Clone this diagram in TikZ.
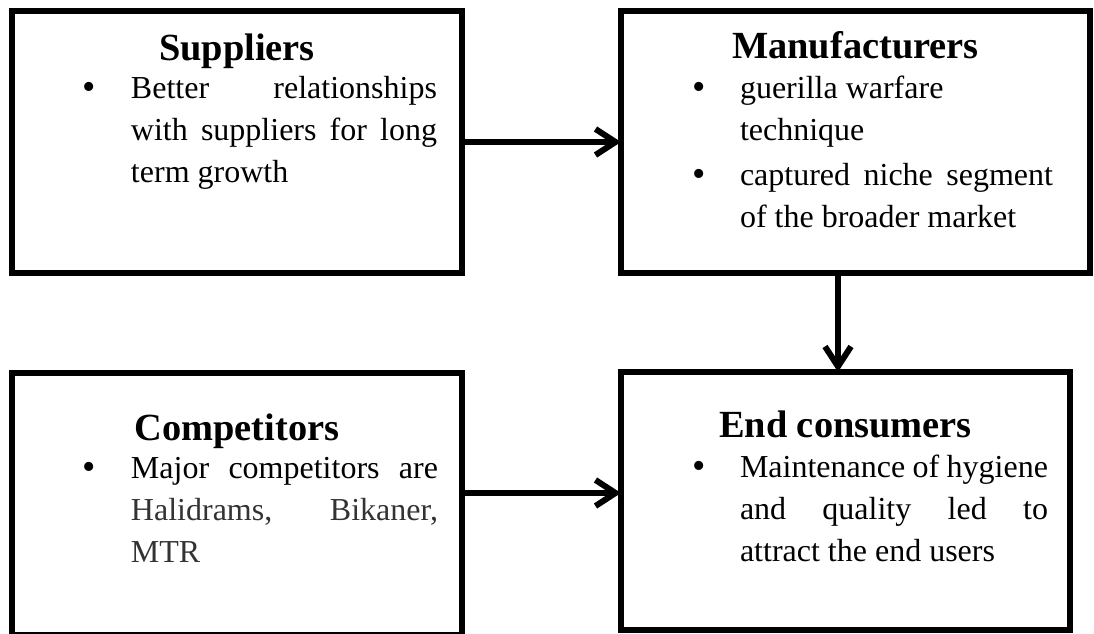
\documentclass[tikz,border=0pt]{standalone}
\usepackage{fontspec}
\setmainfont{Liberation Serif}
\usetikzlibrary{positioning, arrows.meta}

\newcommand{\titlefont}{\fontsize{19.2}{23}\selectfont\bfseries}
\newcommand{\bodyfont}{\fontsize{16}{21}\selectfont}
\newcommand{\bitem}{\noindent\hangindent=24pt\hangafter=1%
  \makebox[24pt][l]{\raisebox{-0.6pt}{\fontsize{19}{21}\selectfont\textbullet}}}

\begin{document}
\begin{tikzpicture}[x=0.5pt, y=-0.5pt,
  every node/.style={inner sep=0pt, outer sep=0pt},
  box/.style={draw, line width=2.6pt, rectangle},
  title/.style={font=\titlefont, anchor=base},
  body/.style={font=\bodyfont, anchor=base west, align=justify},
  arrow/.style={-{Straight Barb[length=10pt, width=13pt]}, line width=3pt,
                line cap=round, line join=round}]
\useasboundingbox (0,0) rectangle (1094,633);

% the four boxes
\node[box, minimum width=225pt, minimum height=131pt] (sup) at (237,142) {};
\node[box, minimum width=234.5pt, minimum height=131pt] (manu) at (855.5,142) {};
\node[box, minimum width=225pt, minimum height=131pt] (comp) at (237,504) {};
\node[box, minimum width=224.5pt, minimum height=129pt] (cons) at (845.5,501) {};

% titles
\node[title] (suptitle) at (237,60) {Suppliers};
\node[title] (manutitle) at (855.5,58) {Manufacturers};
\node[title] (comptitle) at (237,440) {Competitors};
\node[title] (constitle) at (845.5,437) {End consumers};

% bullet texts
\node[body, text width=177pt] (suptext) at (83,98)
  {\bitem Better relationships\linebreak with suppliers for long\linebreak term growth\par};
\node[body, text width=180.5pt] (manutext) at (692,98)
  {\bitem guerilla warfare\newline technique\par\vskip 1.5pt
   \bitem captured niche segment\linebreak of the broader market\par};
\node[body, text width=177.5pt] (comptext) at (83,478)
  {\bitem Major competitors are\linebreak
   {\color{black!80}Halidrams, Bikaner,\linebreak MTR}\par};
\node[body, text width=178pt] (constext) at (692,477)
  {\bitem Maintenance of hygiene\linebreak and quality led to\linebreak
   attract the end users\par};

% connectors
\draw[arrow] (sup.east) -- (manu.west);
\draw[arrow] (manu.south -| 838,0) -- (cons.north -| 838,0);
\draw[arrow] (comp.east |- 0,493) -- (cons.west |- 0,493);
\end{tikzpicture}
\end{document}
